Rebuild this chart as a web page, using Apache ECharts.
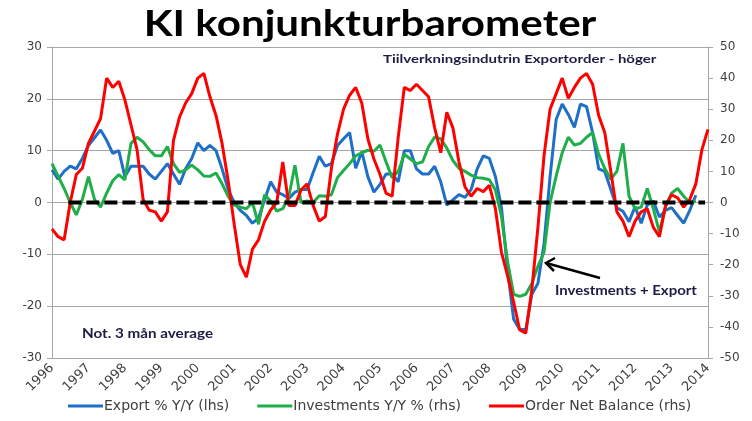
<!DOCTYPE html>
<html>
<head>
<meta charset="utf-8">
<script src="https://cdn.jsdelivr.net/npm/echarts@6/dist/echarts.min.js"></script>
<style>
  html, body { margin: 0; padding: 0; background: #fff; }
  #chart { width: 752px; height: 421px; }
</style>
</head>
<body>
<div id="chart"></div>
<script>
// bi-monthly readings, first point Jan 1996, step 1/6 year
var startYear = 1996;
var step = 1 / 6;

// Export % Y/Y (lhs)
var exportVals = [
  6.3, 4.5, 6, 7, 6.5, 8.5,
  11, 12.5, 14, 12, 9.5, 10,
  5, 7, 7, 7, 5.5, 4.5,
  6, 7.5, 5.5, 3.5, 6.5, 8.5,
  11.5, 10, 11, 10, 6.5, 2.5,
  0, -1.5, -2.5, -4, -3, 0.5,
  4, 2, 1.5, 0.8, 2, 2.5,
  2.5, 5.8, 8.9, 7, 7.5, 11,
  12.3, 13.5, 6.6, 9.8, 5, 2,
  3.5, 5.5, 5.5, 4, 10, 10,
  6.5, 5.5, 5.5, 7, 4, -0.5,
  0.5, 1.5, 1, 2.5, 6.5, 9,
  8.5, 5, -1, -13, -22.5, -24.5,
  -24.5, -17.7, -15.6, -8, 5, 16,
  19, 17, 14.5, 19, 18.5, 13.5,
  6.5, 6, 2.5, -1, -1.7, -3.7,
  -0.8, -4, -0.5, 0.3, -2.8, -1.5,
  -1, -2.5, -4, -1.5, 1.4, null,
  null
];

// Investments Y/Y % (rhs)
var investVals = [
  12.5, 8.5, 4.5, 0, -4, 1,
  8.3, 1, -1.5, 3, 7, 9,
  7.3, 19, 21, 19.5, 17, 15,
  15, 18, 12.5, 9.7, 10.5, 12,
  10.5, 8.5, 8.4, 9.5, 6, 2,
  -0.8, -1.5, -2, 0, -7, 2.5,
  0.5, -2.8, -2, 2, 12, 0,
  0.5, 0, 2.2, 2, 2.5, 8,
  10.3, 12.5, 15, 16, 16.8, 16.5,
  18.5, 13, 8, 10, 15.5, 14,
  12.5, 13, 18, 21, 20.5, 17.5,
  13.5, 11, 10, 8.8, 8, 7.8,
  7.3, 4, -4.5, -19, -29.5, -30.2,
  -29.5, -26, -20.5, -16, 0, 8.5,
  16, 21, 18.5, 19, 21, 22.5,
  15.5, 11, 7.5, 10, 19, 2,
  -2, -1.5, 4.5, -2, -9.5, -1.5,
  3, 4.5, 2, 0, 0.5, null,
  null
];

// Order Net Balance (rhs)
var orderVals = [
  -8.5, -11, -12, 0, 9, 11,
  19, 23, 27, 40, 37, 39,
  33, 25, 17, 1, -2.5, -3,
  -6, -3, 20, 27.5, 32, 35,
  40, 41.5, 34, 28, 19, 7,
  -7, -20, -24, -15, -12, -6,
  -2.4, 0, 13, -1, -1, 4,
  6, -1, -6, -4.5, 11, 22,
  30, 34.5, 37, 32, 20.5, 14,
  9, 3, 2, 21, 37, 36,
  38, 36, 34, 24, 16, 29,
  24, 13, 5, 2, 4.5, 3.5,
  5.5, -2, -16, -23.5, -32, -41,
  -42, -28, -8, 15, 30, 35,
  40, 33.5, 37, 40, 41.5, 38,
  28, 22.5, 10, -3, -6, -11,
  -6, -3, -2, -8, -11, -1,
  2.5, 1.5, -1.5, 1, 6, 17,
  23.5
];

// dashed zero reference line (lhs)
var zeroLine = [[1996.45, 0], [2013.92, 0]];

var yearTicks = [1996, 2014];
var leftAxis = [-30, 30, 10];
var rightAxis = [-50, 50, 10];

var seriesNames = ["Export % Y/Y (lhs)", "Investments Y/Y % (rhs)", "Order Net Balance (rhs)"];
var seriesColors = ["#1f6fc6", "#1fae4a", "#ff0000"];

function toPairs(vals) {
  return vals.map(function (v, i) {
    return [startYear + i * step, v];
  });
}

var chart = echarts.init(document.getElementById("chart"));

var axisLabelStyle = {
  color: "#404040",
  fontFamily: "DejaVu Sans",
  fontSize: 12
};

var option = {
  animation: false,
  grid: { left: 52, right: 44, top: 47, bottom: 63 },
  legend: {
    bottom: 3,
    left: 63,
    itemWidth: 35,
    itemHeight: 3,
    itemGap: 28,
    icon: "rect",
    data: seriesNames,
    textStyle: { color: "#404040", fontFamily: "DejaVu Sans", fontSize: 14, padding: [0, 0, 0, -4] }
  },
  xAxis: {
    type: "value",
    min: yearTicks[0],
    max: yearTicks[1],
    interval: 1,
    splitLine: { show: false },
    axisLine: { onZero: false, lineStyle: { color: "#a6a6a6" } },
    axisTick: { show: false },
    axisLabel: Object.assign({}, axisLabelStyle, {
      rotate: 45,
      margin: 8,
      fontSize: 13,
      formatter: function (v) { return String(v); }
    })
  },
  yAxis: [
    {
      type: "value",
      min: leftAxis[0],
      max: leftAxis[1],
      interval: leftAxis[2],
      axisLine: { show: true, lineStyle: { color: "#a6a6a6" } },
      axisTick: { show: true, length: 5, lineStyle: { color: "#a6a6a6" } },
      splitLine: { lineStyle: { color: "#a6a6a6", width: 1 } },
      axisLabel: Object.assign({ margin: 10 }, axisLabelStyle)
    },
    {
      type: "value",
      position: "right",
      min: rightAxis[0],
      max: rightAxis[1],
      interval: rightAxis[2],
      axisLine: { show: true, lineStyle: { color: "#a6a6a6" } },
      axisTick: { show: true, length: 5, lineStyle: { color: "#a6a6a6" } },
      splitLine: { show: false },
      axisLabel: Object.assign({ margin: 12 }, axisLabelStyle)
    }
  ],
  series: [
    {
      name: seriesNames[0],
      type: "line",
      yAxisIndex: 0,
      data: toPairs(exportVals),
      showSymbol: false,
      symbol: "none",
      lineStyle: { color: seriesColors[0], width: 3 },
      itemStyle: { color: seriesColors[0] },
      z: 2
    },
    {
      name: seriesNames[1],
      type: "line",
      yAxisIndex: 1,
      data: toPairs(investVals),
      showSymbol: false,
      symbol: "none",
      lineStyle: { color: seriesColors[1], width: 3 },
      itemStyle: { color: seriesColors[1] },
      z: 3
    },
    {
      name: seriesNames[2],
      type: "line",
      yAxisIndex: 1,
      data: toPairs(orderVals),
      showSymbol: false,
      symbol: "none",
      lineStyle: { color: seriesColors[2], width: 3 },
      itemStyle: { color: seriesColors[2] },
      z: 4
    },
    {
      name: "zero",
      type: "line",
      yAxisIndex: 0,
      data: zeroLine,
      showSymbol: false,
      symbol: "none",
      silent: true,
      lineStyle: { color: "#000", width: 4, type: [13, 5] },
      z: 5
    }
  ],
  graphic: [
    {
      // chart title, stretched a little like the original
      type: "text",
      x: 370,
      y: 24,
      scaleX: 1.17,
      style: {
        text: "KI konjunkturbarometer",
        fill: "#000",
        font: "bold 36px Lato",
        textAlign: "center",
        textVerticalAlign: "middle"
      }
    },
    {
      type: "text",
      x: 383,
      y: 59,
      scaleX: 1.25,
      style: { text: "Tiilverkningsindutrin Exportorder - höger", fill: "#1c1c45", font: "bold 12px Lato", textVerticalAlign: "middle" }
    },
    {
      type: "text",
      x: 82,
      y: 334,
      scaleX: 1.17,
      style: { text: "Not. 3 mån average", fill: "#1c1c45", font: "bold 13px Lato", textVerticalAlign: "middle" }
    },
    {
      type: "text",
      x: 555,
      y: 291,
      scaleX: 1.15,
      style: { text: "Investments + Export", fill: "#1c1c45", font: "bold 13px Lato", textVerticalAlign: "middle" }
    },
    {
      type: "line",
      shape: { x1: 546, y1: 263, x2: 600, y2: 278 },
      style: { stroke: "#000", lineWidth: 2.5 },
      z: 10
    },
    {
      type: "polyline",
      shape: { points: [[555, 258], [546, 263], [554, 271]] },
      style: { stroke: "#000", lineWidth: 2.5, fill: null },
      z: 10
    }
  ]
};

chart.setOption(option);
</script>
</body>
</html>
